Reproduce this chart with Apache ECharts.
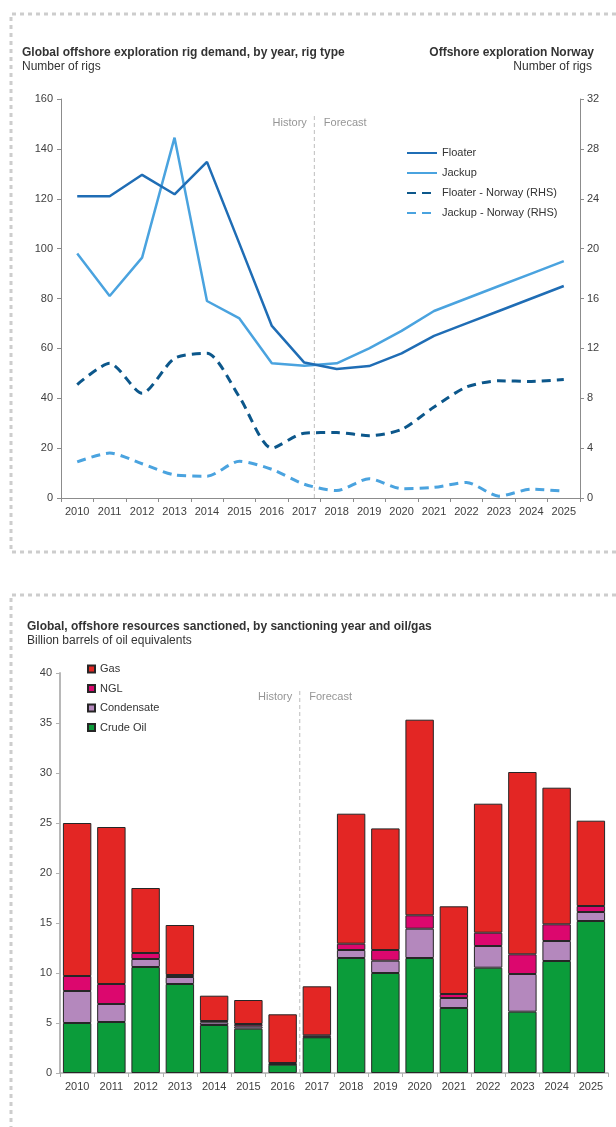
<!DOCTYPE html>
<html>
<head>
<meta charset="utf-8">
<script src="https://cdn.jsdelivr.net/npm/echarts@6/dist/echarts.min.js"></script>
<style>
  html, body { margin: 0; padding: 0; background: #ffffff; }
  #chart { width: 616px; height: 1127px; }
</style>
</head>
<body>
<div id="chart"></div>
<script>
// ---- Rig demand (number of rigs) ----
const years = ['2010','2011','2012','2013','2014','2015','2016','2017','2018','2019','2020','2021','2022','2023','2024','2025'];
const floater       = [121, 121, 129.6, 121.8, 134.8, 102, 69, 54.3, 51.7, 52.9, 58, 65, 70, 75, 80, 85];
const jackup        = [98, 81, 96.4, 144.5, 79, 72, 54, 53, 54, 60, 67, 75, 80, 85, 90, 95];
const floaterNorway = [9.1, 10.8, 8.4, 11.2, 11.6, 8.1, 4.0, 5.2, 5.25, 5.0, 5.5, 7.3, 8.9, 9.4, 9.35, 9.5];
const jackupNorway  = [2.9, 3.6, 2.75, 1.85, 1.75, 2.95, 2.3, 1.1, 0.6, 1.55, 0.75, 0.85, 1.25, 0.15, 0.7, 0.55];

// ---- Resources sanctioned (billion boe) ----
const crudeOil   = [5.0, 5.1, 10.6, 8.9, 4.8, 4.43, 0.83, 3.57, 11.5, 10.0, 11.5, 6.5, 10.53, 6.13, 11.2, 15.2];
const condensate = [3.2, 1.8, 0.8, 0.7, 0.27, 0.24, 0.05, 0.05, 0.8, 1.23, 2.93, 1.0, 2.17, 3.77, 2.0, 0.9];
const ngl        = [1.5, 2.0, 0.6, 0.2, 0.13, 0.23, 0.12, 0.15, 0.63, 1.07, 1.34, 0.4, 1.33, 1.97, 1.67, 0.6];
const gas        = [15.3, 15.7, 6.5, 5.0, 2.53, 2.4, 4.87, 4.9, 13.0, 12.16, 19.56, 8.77, 12.9, 18.23, 13.66, 8.53];

// History / forecast split (category position) and annotation heights
const rigSplit = 7.31, rigSplitTop = 153.6, rigSplitLabel = 150.4;
const resSplit = 6.5,  resSplitTop = 38.5,  resSplitLabel = 37.6;

const FONT = '"Liberation Sans", Arial, Helvetica, sans-serif';
const TXT = '#333333';
const AXIS_TXT = '#404040';

const chart = echarts.init(document.getElementById('chart'), null, { renderer: 'canvas' });

function dashedFrame(points) {
  return {
    type: 'polyline',
    silent: true,
    shape: { points: points },
    style: { stroke: '#cdcdcd', lineWidth: 3, lineDash: [4, 4], fill: null }
  };
}

function heading(text, pos, bold) {
  return Object.assign({
    text: text,
    padding: 0,
    textStyle: { fontFamily: FONT, fontSize: 12, fontWeight: bold ? 'bold' : 'normal', color: TXT, lineHeight: 14 }
  }, pos);
}

const axisLabel = { color: AXIS_TXT, fontSize: 11, fontFamily: FONT };

const option = {
  animation: false,
  backgroundColor: '#ffffff',
  textStyle: { fontFamily: FONT },
  graphic: [
    dashedFrame([[616, 14], [11, 14], [11, 552], [616, 552]]),
    dashedFrame([[616, 595], [11, 595], [11, 1127]])
  ],
  title: [
    heading('Global offshore exploration rig demand, by year, rig type', { left: 22, top: 46 }, true),
    heading('Number of rigs', { left: 22, top: 60 }, false),
    heading('Offshore exploration Norway', { right: 22, top: 46 }, true),
    heading('Number of rigs', { right: 24, top: 60 }, false),
    heading('Global, offshore resources sanctioned, by sanctioning year and oil/gas', { left: 27, top: 620 }, true),
    heading('Billion barrels of oil equivalents', { left: 27, top: 634 }, false)
  ],
  legend: [
    {
      orient: 'vertical', left: 406, top: 146, padding: 0,
      itemWidth: 30, itemHeight: 14, itemGap: 6,
      selectedMode: false,
      itemStyle: { opacity: 0 },
      data: ['Floater', 'Jackup', 'Floater - Norway (RHS)', 'Jackup - Norway (RHS)'],
      textStyle: { color: TXT, fontSize: 11, fontFamily: FONT, lineHeight: 14 }
    },
    {
      orient: 'vertical', left: 87, top: 662, padding: 0,
      itemWidth: 7, itemHeight: 7, itemGap: 5.5,
      icon: 'rect',
      selectedMode: false,
      data: ['Gas', 'NGL', 'Condensate', 'Crude Oil'],
      textStyle: { color: TXT, fontSize: 11, fontFamily: FONT, lineHeight: 14 }
    }
  ],
  grid: [
    { left: 61, right: 36, top: 99, bottom: 629 },
    { left: 60, right: 8, top: 673, bottom: 54 }
  ],
  xAxis: [
    {
      type: 'category', gridIndex: 0, data: years, boundaryGap: true,
      axisLine: { onZero: false, lineStyle: { color: '#8c8c8c', width: 1 } },
      axisTick: { show: true, alignWithLabel: false, interval: 0, length: 4, lineStyle: { color: '#8c8c8c' } },
      axisLabel: Object.assign({ interval: 0, margin: 8 }, axisLabel),
      splitLine: { show: false }
    },
    { type: 'value', gridIndex: 0, min: -0.5, max: 15.5, show: false },
    {
      type: 'category', gridIndex: 1, data: years, boundaryGap: true,
      axisLine: { onZero: false, lineStyle: { color: '#b0b0b0', width: 1.5 } },
      axisTick: { show: true, alignWithLabel: false, interval: 0, length: 4, lineStyle: { color: '#b0b0b0' } },
      axisLabel: Object.assign({ interval: 0, margin: 8 }, axisLabel),
      splitLine: { show: false }
    },
    { type: 'value', gridIndex: 1, min: -0.5, max: 15.5, show: false }
  ],
  yAxis: [
    {
      type: 'value', gridIndex: 0, min: 0, max: 160, interval: 20, position: 'left',
      axisLine: { show: true, onZero: false, lineStyle: { color: '#8c8c8c', width: 1 } },
      axisTick: { show: true, length: 4, lineStyle: { color: '#8c8c8c' } },
      axisLabel: Object.assign({ margin: 8 }, axisLabel),
      splitLine: { show: false }
    },
    {
      type: 'value', gridIndex: 0, min: 0, max: 32, interval: 4, position: 'right',
      axisLine: { show: true, onZero: false, lineStyle: { color: '#8c8c8c', width: 1 } },
      axisTick: { show: true, length: 4, lineStyle: { color: '#8c8c8c' } },
      axisLabel: Object.assign({ margin: 7 }, axisLabel),
      splitLine: { show: false }
    },
    {
      type: 'value', gridIndex: 1, min: 0, max: 40, interval: 5, position: 'left',
      axisLine: { show: true, onZero: false, lineStyle: { color: '#b8b8b8', width: 2 } },
      axisTick: { show: true, length: 4, lineStyle: { color: '#b0b0b0' } },
      axisLabel: Object.assign({ margin: 8 }, axisLabel),
      splitLine: { show: false }
    }
  ],
  series: [
    // rig demand lines
    {
      name: 'Floater', type: 'line', xAxisIndex: 0, yAxisIndex: 0, data: floater,
      symbol: 'none', color: '#1f6db5', lineStyle: { width: 2.5, color: '#1f6db5' }, z: 5
    },
    {
      name: 'Jackup', type: 'line', xAxisIndex: 0, yAxisIndex: 0, data: jackup,
      symbol: 'none', color: '#4aa3df', lineStyle: { width: 2.5, color: '#4aa3df' }, z: 4
    },
    {
      name: 'Floater - Norway (RHS)', type: 'line', xAxisIndex: 0, yAxisIndex: 1, data: floaterNorway,
      symbol: 'none', smooth: 0.25, color: '#0c578b',
      lineStyle: { width: 3, color: '#0c578b', type: [9, 6] }, z: 4
    },
    {
      name: 'Jackup - Norway (RHS)', type: 'line', xAxisIndex: 0, yAxisIndex: 1, data: jackupNorway,
      symbol: 'none', smooth: 0.25, color: '#4aa3df',
      lineStyle: { width: 3, color: '#4aa3df', type: [9, 6] }, z: 4
    },
    // history / forecast split, rig chart
    {
      type: 'line', xAxisIndex: 1, yAxisIndex: 0, silent: true, symbol: 'none',
      data: [[rigSplit, 0], [rigSplit, rigSplitTop]],
      lineStyle: { color: '#bdbdbd', width: 1, type: [4, 3] }, z: 1
    },
    {
      type: 'scatter', xAxisIndex: 1, yAxisIndex: 0, silent: true, symbolSize: 1,
      itemStyle: { color: 'rgba(0,0,0,0)' },
      label: { show: true, color: '#7a7a7a', fontSize: 11, fontFamily: FONT, distance: 7 },
      data: [
        { value: [rigSplit, rigSplitLabel], label: { position: 'left', formatter: 'History' } },
        { value: [rigSplit, rigSplitLabel], label: { position: 'right', distance: 9, formatter: 'Forecast' } }
      ]
    },
    // sanctioned resources, stacked bars
    {
      name: 'Crude Oil', type: 'bar', stack: 'res', xAxisIndex: 2, yAxisIndex: 2, data: crudeOil,
      barCategoryGap: '17%', color: '#0b9c3a',
      itemStyle: { color: '#0b9c3a', borderColor: '#262626', borderWidth: 1 }
    },
    {
      name: 'Condensate', type: 'bar', stack: 'res', xAxisIndex: 2, yAxisIndex: 2, data: condensate,
      barCategoryGap: '17%', color: '#b488bd',
      itemStyle: { color: '#b488bd', borderColor: '#262626', borderWidth: 1 }
    },
    {
      name: 'NGL', type: 'bar', stack: 'res', xAxisIndex: 2, yAxisIndex: 2, data: ngl,
      barCategoryGap: '17%', color: '#dc076e',
      itemStyle: { color: '#dc076e', borderColor: '#262626', borderWidth: 1 }
    },
    {
      name: 'Gas', type: 'bar', stack: 'res', xAxisIndex: 2, yAxisIndex: 2, data: gas,
      barCategoryGap: '17%', color: '#e32624',
      itemStyle: { color: '#e32624', borderColor: '#262626', borderWidth: 1 }
    },
    // history / forecast split, resources chart
    {
      type: 'line', xAxisIndex: 3, yAxisIndex: 2, silent: true, symbol: 'none',
      data: [[resSplit, 0], [resSplit, resSplitTop]],
      lineStyle: { color: '#bdbdbd', width: 1, type: [4, 3] }, z: 1
    },
    {
      type: 'scatter', xAxisIndex: 3, yAxisIndex: 2, silent: true, symbolSize: 1,
      itemStyle: { color: 'rgba(0,0,0,0)' },
      label: { show: true, color: '#7a7a7a', fontSize: 11, fontFamily: FONT, distance: 7 },
      data: [
        { value: [resSplit, resSplitLabel], label: { position: 'left', formatter: 'History' } },
        { value: [resSplit, resSplitLabel], label: { position: 'right', distance: 9, formatter: 'Forecast' } }
      ]
    }
  ]
};

chart.setOption(option);
</script>
</body>
</html>
